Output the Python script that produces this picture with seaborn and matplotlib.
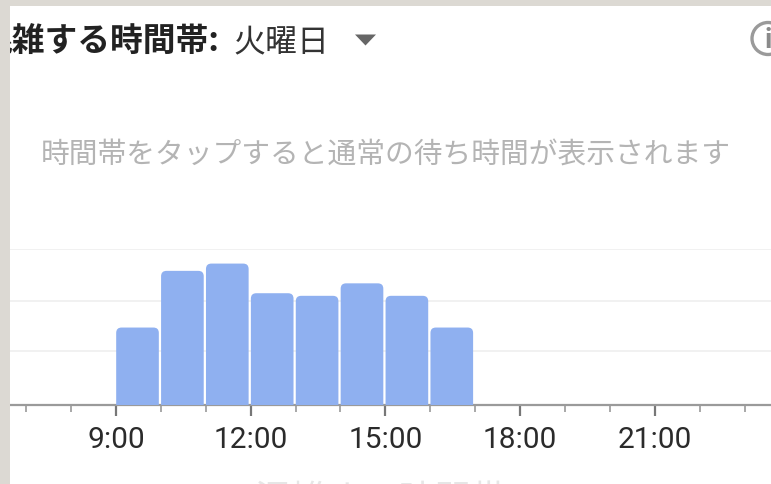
import matplotlib
matplotlib.use('Agg')
import matplotlib.pyplot as plt
import pandas as pd
import seaborn as sns
from matplotlib.patches import Circle, FancyBboxPatch, Polygon, Rectangle

# values
horas = [9, 10, 11, 12, 13, 14, 15, 16]
ocupacion = [1.48, 2.57, 2.71, 2.14, 2.09, 2.33, 2.09, 1.48]
marcas_mayores = [9, 12, 15, 18, 21]
etiquetas_mayores = ['9:00', '12:00', '15:00', '18:00', '21:00']
marcas_menores = [7, 8, 10, 11, 13, 14, 16, 17, 19, 20, 22, 23]
lineas_guia = [1.03, 2.0, 3.0]

ANCHO, ALTO = 771, 485
FONDO = '#dcd9d3'
AZUL = '#8fb0f0'

sns.set_theme(style='white')
plt.rcParams['font.family'] = ['Noto Sans CJK JP', 'DejaVu Sans']

fig = plt.figure(figsize=(ANCHO / 100, ALTO / 100), dpi=100, facecolor='white')
# axes box in pixels: x from 10 to 771, baseline at 405.5, top at 249.5
ax = fig.add_axes([10 / ANCHO, 1 - 405.5 / ALTO, 761 / ANCHO, 156 / ALTO])

df = pd.DataFrame({'hora': [h + 0.48 for h in horas], 'ocupacion': ocupacion})
sns.barplot(data=df, x='hora', y='ocupacion', native_scale=True, width=0.95,
            color=AZUL, saturation=1, ax=ax, zorder=3)

ax.set_xlim(6.64, 23.59)
ax.set_ylim(0, 3)

# round the top corners of the bars, the lower corners fall below the axis and get clipped
radio = 0.12
aspecto = 44.9 / 52
for barra in list(ax.patches):
    x0, y0, w, h = barra.get_x(), barra.get_y(), barra.get_width(), barra.get_height()
    barra.set_visible(False)
    ax.add_patch(FancyBboxPatch((x0 + radio, y0), w - 2 * radio, h - radio * aspecto,
                                boxstyle=f'round,pad={radio},rounding_size={radio}',
                                mutation_aspect=aspecto, fc=AZUL, ec='none', zorder=3))

ax.set_xlabel('')
ax.set_ylabel('')
ax.set_yticks(lineas_guia)
ax.set_yticklabels([])
ax.grid(axis='y', color='#efefef', lw=1.2, zorder=0)
ax.grid(axis='x', visible=False)
ax.tick_params(axis='y', length=0)

ax.set_xticks(marcas_mayores)
ax.set_xticklabels(etiquetas_mayores, fontfamily='Roboto', fontsize=21.5, color='#2b2b2b')
ax.set_xticks(marcas_menores, minor=True)
ax.tick_params(axis='x', which='major', length=8, width=1.6, color='#777777', pad=6.5, bottom=True)
ax.tick_params(axis='x', which='minor', length=5, width=1.2, color='#999999', bottom=True)

for lado in ['top', 'left', 'right']:
    ax.spines[lado].set_visible(False)
ax.spines['bottom'].set_color('#9a9a9a')
ax.spines['bottom'].set_linewidth(1.6)


def px(x, y):
    return x / ANCHO, 1 - y / ALTO


fig.text(*px(-21, 42), '混雑する時間帯:', fontsize=23.6, fontweight='bold', color='#222222', va='center')
fig.text(*px(233, 42), '火曜日', fontsize=23, color='#333333', va='center')
fig.text(*px(41, 156), '時間帯をタップすると通常の待ち時間が表示されます', fontsize=20.7,
         color='#b4b4b4', va='center')
fig.text(*px(255, 501), '混雑する時間帯', fontsize=26, color='#e6e6e6', va='center')

fig.add_artist(Polygon([px(355, 35.5), px(376, 35.5), px(365.5, 46.5)], closed=True,
                       fc='#666666', ec='none', transform=fig.transFigure))

# info icon, cut by the right edge
fig.add_artist(Circle((768, ALTO - 39.5), 16, fc='white', ec='#9a9a9a', lw=2.4, transform=None))
fig.text(*px(768, 40), 'i', fontsize=20, fontweight='bold', fontfamily='Roboto',
         color='#8a8a8a', ha='center', va='center')

# screenshot background along the top and left edges
fig.add_artist(Rectangle((0, 0), 10, ALTO, fc=FONDO, ec='none', transform=None, zorder=10))
fig.add_artist(Rectangle((0, ALTO - 7), ANCHO, 7, fc=FONDO, ec='none', transform=None, zorder=10))

fig.savefig('out.png', dpi=100)
